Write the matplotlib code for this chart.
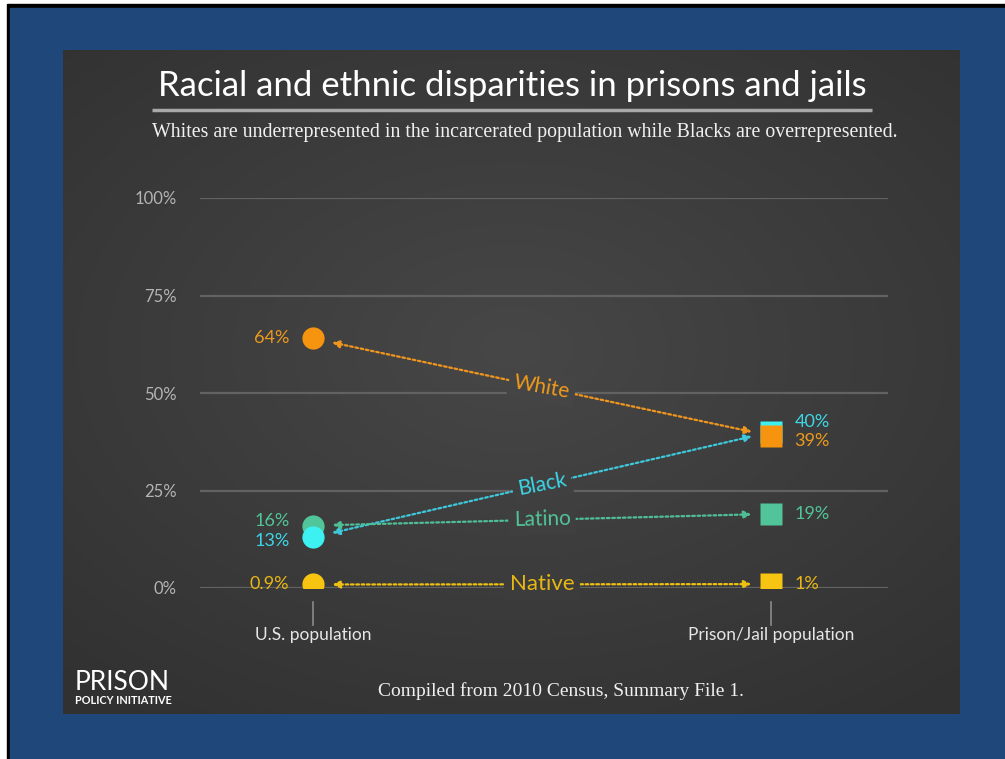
import numpy as np
import matplotlib
matplotlib.use("Agg")
import matplotlib.pyplot as plt
from matplotlib.patches import Rectangle

# data
groups = ["White", "Black", "Latino", "Native"]
us_pct = [64, 13, 16, 0.9]
prison_pct = [39, 40, 19, 1]
us_labels = ["64%", "13%", "16%", "0.9%"]
prison_labels = ["39%", "40%", "19%", "1%"]
columns = ["U.S. population", "Prison/Jail population"]
yticks = [0, 25, 50, 75, 100]

# styling
marker_col = {"White": "#F7940F", "Black": "#3DF0F2", "Latino": "#52C49A", "Native": "#F6C411"}
line_col = {"White": "#F0961E", "Black": "#3EC8DA", "Latino": "#4FBE96", "Native": "#EEC012"}
text_col = {"White": "#EE9A1C", "Black": "#3CD6E6", "Latino": "#52C49A", "Native": "#E9B814"}
zorder = {"White": 6, "Black": 5, "Latino": 4, "Native": 6}
us_dy = {"White": 0, "Black": -3, "Latino": 3, "Native": 0}
pr_dy = {"White": -4, "Black": 7, "Latino": 0, "Native": 0}
label_size = {"White": 15, "Black": 15, "Latino": 15, "Native": 16}

W, H = 1005, 759
px0, px1, py0, py1 = 63, 960, 50, 714
LO, HI = np.array([0x31, 0x31, 0x31]), np.array([0x47, 0x47, 0x47])


def panel_shade(x, y):
    # x, y in -1..1 over the panel
    r = np.sqrt((x * 0.95) ** 2 + ((y + 0.1) * 1.05) ** 2)
    s = np.clip(1 - r / 1.45, 0, 1)
    return (LO + (HI - LO) * np.asarray(s)[..., None]) / 255.0


def panel_color_at(xp, yp):
    x = (xp - px0) / (px1 - px0) * 2 - 1
    y = (yp - py0) / (py1 - py0) * 2 - 1
    return tuple(panel_shade(np.array(x), np.array(y)).ravel())


fig = plt.figure(figsize=(W / 100, H / 100), dpi=100)
fig.patch.set_facecolor("white")

# background frame in pixel coordinates
bg = fig.add_axes([0, 0, 1, 1])
bg.axis("off")
bg.add_patch(Rectangle((7, 4), W, H, color="black", zorder=0))
bg.add_patch(Rectangle((10, 8), W, H, color="#20477A", zorder=0.5))

gx, gy = np.meshgrid(np.linspace(-1, 1, 300), np.linspace(-1, 1, 220))
bg.imshow(panel_shade(gx, gy), extent=(px0, px1, py1, py0), interpolation="bilinear",
          aspect="auto", zorder=1)
bg.set_xlim(0, W)
bg.set_ylim(H, 0)

bg.text(512, 86, "Racial and ethnic disparities in prisons and jails",
        ha="center", va="center", fontsize=25, color="white", family="Lato", zorder=3)
bg.plot([152, 872], [110, 110], color="#a8a8a8", lw=2.5, solid_capstyle="butt", zorder=3)
bg.text(525, 133, "Whites are underrepresented in the incarcerated population "
        "while Blacks are overrepresented.",
        ha="center", va="center", fontsize=14.3, color="#f0f0f0",
        family="Liberation Serif", zorder=3)
bg.text(561, 691, "Compiled from 2010 Census, Summary File 1.",
        ha="center", va="center", fontsize=14, color="#f0f0f0",
        family="Liberation Serif", zorder=3)
bg.text(75, 683, "PRISON", ha="left", va="center", fontsize=19, color="white",
        family="Lato", zorder=3)
bg.text(75, 700, "POLICY INITIATIVE", ha="left", va="center", fontsize=7.8,
        color="white", family="Lato", weight="bold", zorder=3)

# main chart axes: y 0..100 maps to pixel 588..198
ax = fig.add_axes([200 / W, (H - 588) / H, 688 / W, 390 / H])
ax.set_facecolor("none")
ax.set_ylim(0, 100)
ax.set_xlim((200 - 313) / 458, (888 - 313) / 458)
for s in ax.spines.values():
    s.set_visible(False)
ax.set_xticks([])
ax.set_yticks(yticks)
ax.set_yticklabels([f"{t}%" for t in yticks], family="Lato", fontsize=12, color="#b4b4b4")
ax.tick_params(axis="y", length=0, pad=17)
for t in yticks:
    ax.axhline(t, color="#626262", lw=1.6, zorder=1)

# category ticks and labels
for i, name in enumerate(columns):
    ax.plot([i, i], [-3.6, -9.5], color="#8a8a8a", lw=1.2, clip_on=False)
    ax.text(i, -12, name, ha="center", va="center", fontsize=12.5, color="#e6e6e6",
            family="Lato")

fig.canvas.draw()
for g, a, b, la, lb in zip(groups, us_pct, prison_pct, us_labels, prison_labels):
    z = zorder[g]
    ax.plot(0, a, "o", ms=16, color=marker_col[g], mec="none", zorder=z)
    ax.plot(1, b, "s", ms=16, color=marker_col[g], mec="none", zorder=z)
    ax.annotate("", xy=(1, b), xytext=(0, a), zorder=3,
                arrowprops=dict(arrowstyle="<|-|>,head_length=0.45,head_width=0.22",
                                color=line_col[g], lw=1.6, linestyle=(0, (1.2, 1.2)),
                                shrinkA=14, shrinkB=14))
    ax.annotate(la, xy=(0, a), xytext=(-17, us_dy[g]), textcoords="offset points",
                ha="right", va="center", fontsize=13, color=text_col[g], family="Lato")
    ax.annotate(lb, xy=(1, b), xytext=(17, pr_dy[g]), textcoords="offset points",
                ha="left", va="center", fontsize=13, color=text_col[g], family="Lato")
    # group label on the middle of its connector, boxed in the local panel colour
    p0 = ax.transData.transform((0, a))
    p1 = ax.transData.transform((1, b))
    ang = np.degrees(np.arctan2(p1[1] - p0[1], p1[0] - p0[0]))
    mx, my = ax.transData.transform((0.5, (a + b) / 2))
    box_fc = panel_color_at(mx, H - my)
    ax.text(0.5, (a + b) / 2, g, ha="center", va="center", rotation=ang * 0.85,
            rotation_mode="anchor", fontsize=label_size[g], color=text_col[g],
            family="Lato", zorder=7,
            bbox=dict(boxstyle="square,pad=0.25", fc=box_fc, ec="none"))

fig.savefig("out.png", dpi=100, facecolor=fig.get_facecolor())
